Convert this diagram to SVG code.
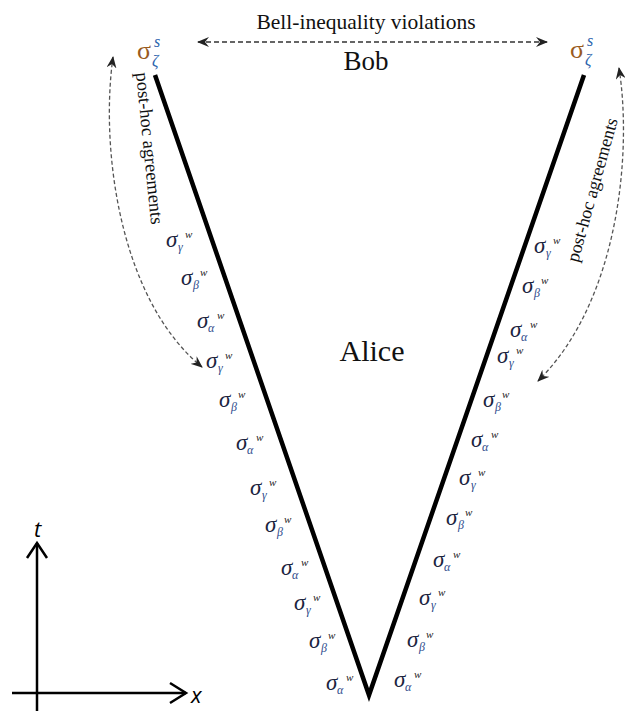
<svg xmlns="http://www.w3.org/2000/svg" xmlns:xlink="http://www.w3.org/1999/xlink" width="625" height="711" viewBox="0 0 625 711">
<style>
.lbl{font-family:"Liberation Serif",serif;fill:#111}
.sig{font-family:"Liberation Serif",serif;font-style:italic;font-size:23px;fill:#1c2540}
.sub{font-family:"Liberation Serif",serif;font-style:italic;font-size:12px;fill:#2e4b8c}
.sup{font-family:"Liberation Serif",serif;font-style:italic;font-size:11px;fill:#222}
.bigs{font-family:"Liberation Serif",serif;font-size:26px;fill:#9a5b1e}
.bigsub{font-family:"Liberation Serif",serif;font-style:italic;font-size:16px;fill:#2b63ad}
.axlbl{font-family:"Open Sans","Liberation Sans",sans-serif;font-style:italic;font-size:22px;fill:#000}
.dash{fill:none;stroke:#333;stroke-width:1.5;stroke-dasharray:5 3}
.cdash{fill:none;stroke:#555;stroke-width:1.3;stroke-dasharray:4 2.5}
.ax{fill:none;stroke:#000;stroke-width:2.5}
</style>
<defs>
<marker id="ah" viewBox="0 0 12 10" refX="11" refY="5" markerWidth="12" markerHeight="10" markerUnits="userSpaceOnUse" orient="auto-start-reverse">
<path d="M0,0 L12,5 L0,10 L4,5 Z" fill="#222"/>
</marker>
<g id="sg"><text class="sig" x="0" y="0">σ</text><text class="sub" x="12" y="4">γ</text><text class="sup" x="19" y="-9">w</text></g>
<g id="sb"><text class="sig" x="0" y="0">σ</text><text class="sub" x="12" y="4">β</text><text class="sup" x="19" y="-9">w</text></g>
<g id="sa"><text class="sig" x="0" y="0">σ</text><text class="sub" x="11" y="4">α</text><text class="sup" x="20" y="-9">w</text></g>
</defs>
<rect width="625" height="711" fill="#fff"/>

<g id="worldlines">
<polyline points="155,75 369,695 584,75" fill="none" stroke="#000" stroke-width="4.5" stroke-linejoin="miter" stroke-miterlimit="10"/>
</g>

<g id="connectors">
<line class="dash" x1="198" y1="42" x2="547" y2="42" marker-start="url(#ah)" marker-end="url(#ah)"/>
<path class="cdash" d="M113,57 C100,150 120,300 202,367" marker-start="url(#ah)" marker-end="url(#ah)"/>
<path class="cdash" d="M619,68 C632,150 620,300 538,381" marker-start="url(#ah)" marker-end="url(#ah)"/>
</g>

<g id="bell-label"><text class="lbl" x="366" y="29" font-size="21.5" text-anchor="middle">Bell-inequality violations</text></g>
<g id="bob"><text class="lbl" x="366" y="70" font-size="27" text-anchor="middle">Bob</text></g>
<g id="alice"><text class="lbl" x="372" y="361" font-size="30" text-anchor="middle">Alice</text></g>

<g id="posthoc-left"><text class="lbl" font-size="18.5" transform="translate(136,73) rotate(84.3)">post-hoc agreements</text></g>
<g id="posthoc-right"><text class="lbl" font-size="18" transform="translate(578,263) rotate(-74.4)">post-hoc agreements</text></g>

<g id="strong-left">
<text class="bigs" x="137" y="59">σ</text><text class="bigsub" x="154" y="47">s</text><text class="bigsub" x="152" y="66">ζ</text>
</g>
<g id="strong-right">
<text class="bigs" x="570" y="58">σ</text><text class="bigsub" x="587" y="46">s</text><text class="bigsub" x="585" y="65">ζ</text>
</g>

<g id="weak-left">
<use xlink:href="#sg" x="166" y="247"/>
<use xlink:href="#sb" x="181" y="285"/>
<use xlink:href="#sa" x="197" y="328"/>
<use xlink:href="#sg" x="206" y="368"/>
<use xlink:href="#sb" x="219" y="407"/>
<use xlink:href="#sa" x="236" y="450"/>
<use xlink:href="#sg" x="250" y="495"/>
<use xlink:href="#sb" x="265" y="532"/>
<use xlink:href="#sa" x="281" y="575"/>
<use xlink:href="#sg" x="294" y="610"/>
<use xlink:href="#sb" x="309" y="648"/>
<use xlink:href="#sa" x="326" y="690"/>
</g>
<g id="weak-right">
<use xlink:href="#sg" x="534" y="253"/>
<use xlink:href="#sb" x="522" y="293"/>
<use xlink:href="#sa" x="510" y="337"/>
<use xlink:href="#sg" x="497" y="363"/>
<use xlink:href="#sb" x="483" y="407"/>
<use xlink:href="#sa" x="471" y="447"/>
<use xlink:href="#sg" x="459" y="485"/>
<use xlink:href="#sb" x="446" y="525"/>
<use xlink:href="#sa" x="433" y="567"/>
<use xlink:href="#sg" x="419" y="605"/>
<use xlink:href="#sb" x="407" y="647"/>
<use xlink:href="#sa" x="394" y="687"/>
</g>

<g id="axes">
<line class="ax" x1="37" y1="543" x2="37" y2="711"/>
<polyline class="ax" points="27,558 37,543 47,558"/>
<line class="ax" x1="12" y1="693" x2="186" y2="693"/>
<polyline class="ax" points="170,683 186,693 170,703"/>
<text class="axlbl" x="34" y="537">t</text>
<text class="axlbl" x="191" y="703">x</text>
</g>
</svg>
